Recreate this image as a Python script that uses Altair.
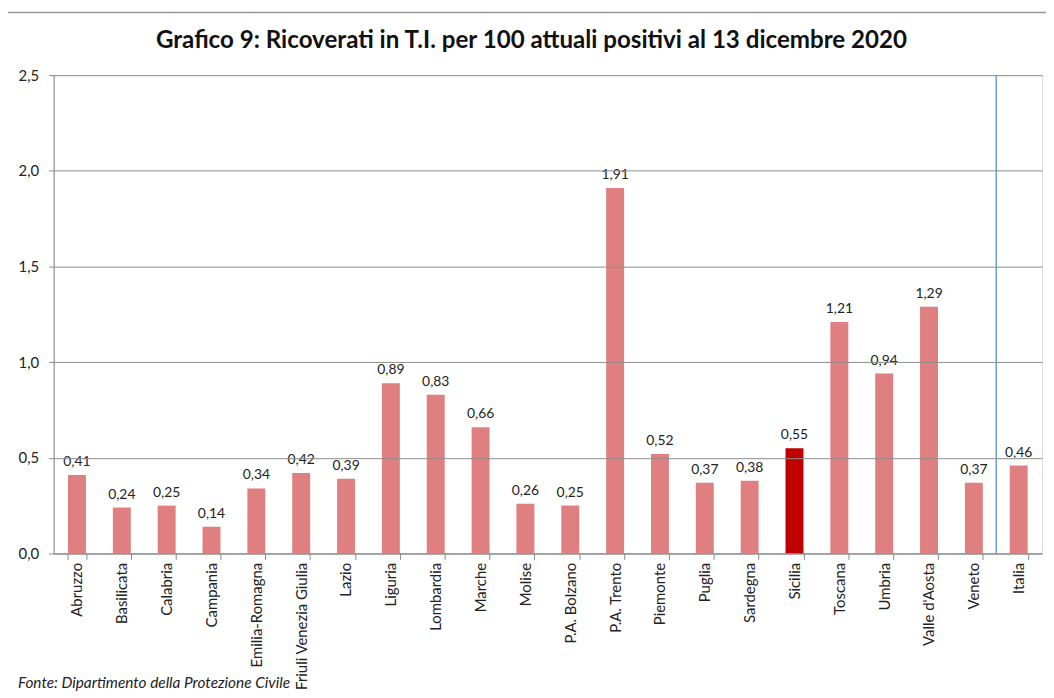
import altair as alt
import pandas as pd

regions = ["Abruzzo", "Basilicata", "Calabria", "Campania", "Emilia-Romagna",
           "Friuli Venezia Giulia", "Lazio", "Liguria", "Lombardia", "Marche",
           "Molise", "P.A. Bolzano", "P.A. Trento", "Piemonte", "Puglia",
           "Sardegna", "Sicilia", "Toscana", "Umbria", "Valle d'Aosta",
           "Veneto", "Italia"]
values = [0.41, 0.24, 0.25, 0.14, 0.34, 0.42, 0.39, 0.89, 0.83, 0.66,
          0.26, 0.25, 1.91, 0.52, 0.37, 0.38, 0.55, 1.21, 0.94, 1.29,
          0.37, 0.46]
highlight = "Sicilia"
separator_before = "Italia"
y_ticks = [0, 0.5, 1.0, 1.5, 2.0, 2.5]
title_text = "Grafico 9: Ricoverati in T.I. per 100 attuali positivi al 13 dicembre 2020"
source_text = "Fonte: Dipartimento della Protezione Civile"

df = pd.DataFrame({
    "regione": regions,
    "valore": values,
    "etichetta": [f"{v:.2f}".replace(".", ",") for v in values],
})

FONT = "Lato"

x_enc = alt.X("regione:N", sort=regions,
              scale=alt.Scale(paddingInner=0.6, paddingOuter=0.32),
              axis=alt.Axis(title=None, labelAngle=-90, labelFontSize=15,
                            labelFont=FONT, labelColor="#222", labelPadding=3,
                            tickBand="extent", tickSize=6, tickColor="#888",
                            domainColor="#888", labelBaseline="middle",
                            labelAlign="right"))
y_enc = alt.Y("valore:Q",
              scale=alt.Scale(domain=[0, 2.5], nice=False),
              axis=alt.Axis(title=None, values=y_ticks, grid=True,
                            gridColor="#8c8c8c", gridWidth=1,
                            labelExpr="replace(format(datum.value, '.1f'), '.', ',')",
                            labelFontSize=15, labelFont=FONT, labelColor="#222",
                            tickSize=5, tickColor="#888", domainColor="#888",
                            labelPadding=10, zindex=1))

base = alt.Chart(df)

bars = base.mark_bar().encode(
    x=x_enc,
    y=y_enc,
    color=alt.condition(alt.datum.regione == highlight,
                        alt.value("#C00000"), alt.value("#E07F7F")),
)

labels = base.mark_text(baseline="bottom", dy=-6, fontSize=14, font=FONT,
                        color="#222").encode(
    x=alt.X("regione:N", sort=regions),
    y=alt.Y("valore:Q"),
    text="etichetta:N",
)

sep = alt.Chart(pd.DataFrame({"regione": [separator_before]})).mark_rule(
    color="#6F9FD8", strokeWidth=1.5, xOffset=-13.6).encode(
    x=alt.X("regione:N", sort=regions, bandPosition=0),
    y=alt.value(0),
    y2=alt.value(482),
)

title = alt.Chart(pd.DataFrame({"t": [title_text]})).mark_text(
    align="center", baseline="alphabetic", fontSize=24.3, font=FONT,
    fontWeight="bold", color="#111").encode(
    x=alt.value(481.5), y=alt.value(-27), text="t:N")

footnote = alt.Chart(pd.DataFrame({"t": [source_text]})).mark_text(
    align="left", baseline="alphabetic", fontSize=15.5, font=FONT,
    fontStyle="italic", color="#222").encode(
    x=alt.value(-36), y=alt.value(618), text="t:N")

frame = alt.Chart(pd.DataFrame({"t": [1]})).mark_rect(
    fill="white", fillOpacity=0, stroke="#999", strokeWidth=1.5).encode(
    x=alt.value(-48), x2=alt.value(1060), y=alt.value(-63), y2=alt.value(700))

chart = alt.layer(frame, bars, labels, sep, title, footnote).properties(
    width=996, height=482,
    autosize=alt.AutoSizeParams(type="none"),
    padding={"left": 46, "top": 65, "right": 4, "bottom": 140},
).configure_view(stroke=None).configure(background="white")

chart.save("out.html", embed_options={"renderer": "svg", "actions": False})
